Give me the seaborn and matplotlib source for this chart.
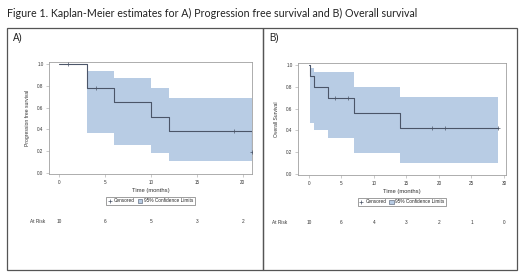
import numpy as np
import pandas as pd
import matplotlib
matplotlib.use("Agg")
import matplotlib.pyplot as plt
from matplotlib.patches import Rectangle, Patch
from matplotlib.lines import Line2D
import seaborn as sns

# A) progression free survival
pfs_time = [0, 3, 6, 10, 12, 21]
pfs_surv = [1.0, 0.778, 0.648, 0.518, 0.389, 0.194]
pfs_ci_time = [3, 6, 10, 12, 21]
pfs_ci_low = [0.37, 0.26, 0.18, 0.105]
pfs_ci_high = [0.94, 0.875, 0.785, 0.69]
pfs_cens_time = [1, 4, 19, 21]
pfs_cens_surv = [1.0, 0.778, 0.389, 0.194]
pfs_risk_time = [0, 5, 10, 15, 20]
pfs_risk = [10, 6, 5, 3, 2]

# B) overall survival
os_time = [0, 0.2, 0.8, 3, 7, 14, 29]
os_surv = [1.0, 0.9, 0.8, 0.7, 0.56, 0.42, 0.42]
os_ci_time = [0.2, 0.8, 3, 7, 14, 29]
os_ci_low = [0.465, 0.40, 0.33, 0.195, 0.10]
os_ci_high = [0.975, 0.935, 0.935, 0.80, 0.71]
os_cens_time = [4, 6, 19, 21, 29]
os_cens_surv = [0.7, 0.7, 0.42, 0.42, 0.42]
os_risk_time = [0, 5, 10, 15, 20, 25, 30]
os_risk = [10, 6, 4, 3, 2, 1, 0]

title = "Figure 1. Kaplan-Meier estimates for A) Progression free survival and B) Overall survival"

line_col = "#4b5568"
band_col = "#b8cce4"
axis_col = "#a0a0a0"
txt_col = "#333333"

sns.set_style("white")
plt.rcParams["font.family"] = ["Liberation Sans", "DejaVu Sans"]

fig = plt.figure(figsize=(5.2, 2.73), dpi=100)
W, H = 520.0, 273.0


def px_axes(x0, y0, x1, y1):
    return fig.add_axes([x0 / W, 1 - y1 / H, (x1 - x0) / W, (y1 - y0) / H])


def km_panel(ax, t, s, ci_t, lo, hi, ct, cs, rt, rv, ylab, xlim, risk_x):
    # confidence band
    lo_s = list(lo) + [lo[-1]]
    hi_s = list(hi) + [hi[-1]]
    ax.fill_between(ci_t, lo_s, hi_s, step="post", color=band_col, linewidth=0)
    df = pd.DataFrame({"t": t, "s": s})
    sns.lineplot(data=df, x="t", y="s", drawstyle="steps-post", color=line_col,
                 linewidth=0.8, ax=ax, estimator=None)
    cdf = pd.DataFrame({"t": ct, "s": cs})
    sns.scatterplot(data=cdf, x="t", y="s", marker="+", s=8, color=line_col,
                    linewidth=0.5, ax=ax, zorder=4)
    ax.set_xlim(*xlim)
    ax.set_ylim(-0.01, 1.02)
    ax.set_xticks(rt)
    ax.set_yticks([0.0, 0.2, 0.4, 0.6, 0.8, 1.0])
    ax.set_yticklabels(["0.0", "0.2", "0.4", "0.6", "0.8", "1.0"])
    ax.tick_params(axis="both", labelsize=3.3, length=2.5, width=0.4,
                   color=axis_col, labelcolor=txt_col, pad=1.5, direction="out")
    ax.tick_params(left=True, bottom=True)
    for sp in ax.spines.values():
        sp.set_color(axis_col)
        sp.set_linewidth(0.6)
    ax.set_xlabel("Time (months)", fontsize=4.2, color=txt_col, labelpad=2.5)
    ax.set_ylabel(ylab, fontsize=3.6, color=txt_col, labelpad=5)
    handles = [Line2D([], [], color=line_col, marker="+", linestyle="none",
                      markersize=2.5, markeredgewidth=0.5),
               Patch(facecolor=band_col, edgecolor=line_col, linewidth=0.4)]
    leg = ax.legend(handles, ["Censored", "95% Confidence Limits"],
                    loc="center", bbox_to_anchor=(0.5, -0.24), ncol=2,
                    fontsize=3.4, frameon=True, fancybox=False,
                    handlelength=0.9, handleheight=0.9, handletextpad=0.4,
                    columnspacing=0.6, borderpad=0.3, borderaxespad=0)
    leg.get_frame().set_edgecolor("#555555")
    leg.get_frame().set_linewidth(0.5)
    tr = ax.get_xaxis_transform()
    for x, v in zip(rt, rv):
        ax.text(x, -0.42, str(v), transform=tr, ha="center", va="center",
                fontsize=3.4, color=txt_col, clip_on=False)
    ax.text(risk_x, -0.42, "At Risk", transform=ax.transAxes, ha="center",
            va="center", fontsize=3.4, color=txt_col)


axA = px_axes(49, 62, 252, 174)
km_panel(axA, pfs_time, pfs_surv, pfs_ci_time, pfs_ci_low, pfs_ci_high,
         pfs_cens_time, pfs_cens_surv, pfs_risk_time, pfs_risk,
         "Progression free survival", (-1.1, 21.0), -0.054)

axB = px_axes(298, 63, 506, 175)
km_panel(axB, os_time, os_surv, os_ci_time, os_ci_low, os_ci_high,
         os_cens_time, os_cens_surv, os_risk_time, os_risk,
         "Overall Survival", (-1.65, 30.3), -0.088)

# panel frames
for x0, x1 in [(7, 263), (263, 517)]:
    fig.add_artist(Rectangle((x0 / W, 1 - 270 / H), (x1 - x0) / W, 242 / H,
                             transform=fig.transFigure, fill=False,
                             edgecolor="#555555", linewidth=0.9))
fig.text(13 / W, 1 - 38 / H, "A)", fontsize=7, color="#222222", va="center", ha="left")
fig.text(269 / W, 1 - 38 / H, "B)", fontsize=7, color="#222222", va="center", ha="left")

fig.text(7 / W, 1 - 13 / H, title, fontsize=7.7, family=["Lato", "DejaVu Sans"],
         color="#222222", va="center", ha="left")

fig.savefig("out.png", dpi=100)
